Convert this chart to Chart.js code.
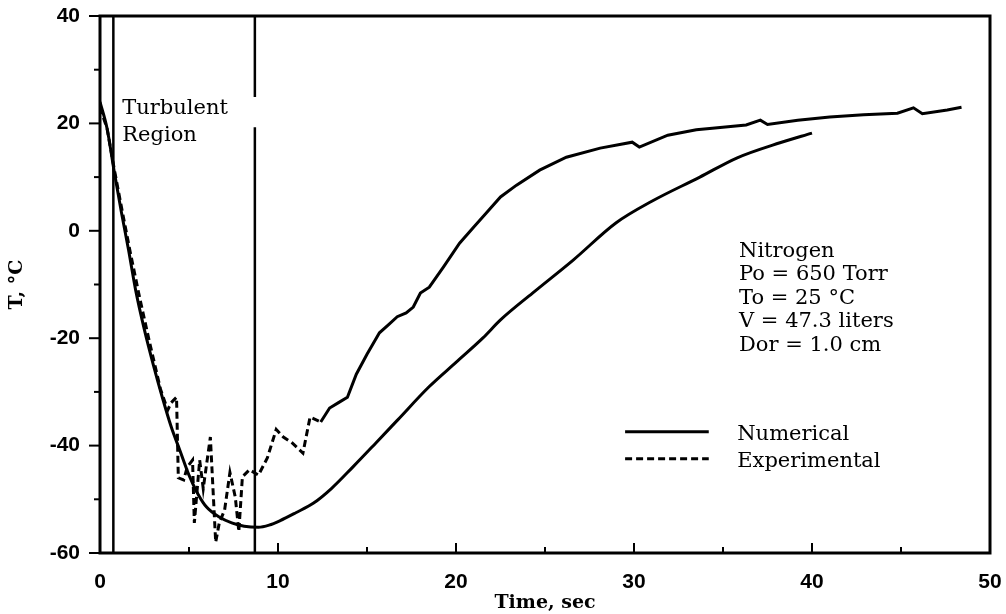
<!DOCTYPE html>
<html>
<head>
<meta charset="utf-8">
<title>Nitrogen blowdown temperature</title>
<script src="https://cdn.jsdelivr.net/npm/chart.js@4.4.1/dist/chart.umd.min.js"></script>
<style>
  html, body { margin: 0; padding: 0; background: #fff; }
  #chart { display: block; }
</style>
</head>
<body>
<canvas id="chart" width="1006" height="614"></canvas>
<script>
// Gas temperature in the vessel during discharge: model vs. measurement
const numTime = [0, 0.4, 0.8, 1.2, 1.6, 2.0, 2.5, 3.0, 3.5, 4.0, 4.5, 5.0, 5.5, 6.0, 6.7, 7.4, 8.1, 8.9, 9.5, 10.1, 11.0, 12.0, 13.0, 14.2, 15.5, 16.7, 18.5, 20.0, 21.5, 22.5, 24.3, 26.6, 29.0, 31.0, 33.7, 35.8, 38.2, 40.0];
const numTemp = [24, 19, 11, 3.5, -3.5, -11, -18.5, -25, -31, -36.5, -41, -45.5, -49, -51.5, -53.3, -54.4, -55, -55.2, -54.8, -54, -52.5, -50.7, -48, -44, -39.5, -35.3, -29, -24.5, -20, -16.6, -11.6, -5.4, 1.5, 5.5, 10, 13.6, 16.4, 18.2];

const expTime = [0, 0.4, 0.8, 1.2, 1.7, 2.25, 2.8, 3.4, 3.8, 4.0, 4.3, 4.4, 4.7, 4.9, 5.2, 5.3, 5.6, 5.8, 6.2, 6.5, 6.7, 7.0, 7.3, 7.6, 7.8, 8.0, 8.4, 8.9, 9.4, 9.9, 10.3, 10.8, 11.4, 11.8, 12.4, 12.9, 13.4, 13.9, 14.4, 15.0, 15.7, 16.2, 16.7, 17.2, 17.6, 18.0, 18.5, 19.3, 20.2, 21.0, 21.7, 22.5, 23.4, 24.7, 26.2, 28.1, 29.9, 30.3, 31.9, 33.5, 34.4, 36.3, 37.1, 37.5, 39.2, 41.0, 42.9, 44.8, 45.7, 46.2, 47.6, 48.4];
const expTemp = [23, 19, 11.5, 4.5, -4, -12.8, -21, -29.5, -33.4, -32, -31, -46, -46.4, -44, -42.7, -54.4, -42.7, -48, -38.4, -58, -54.4, -52, -45, -49.6, -56, -45.8, -44.5, -45.5, -42.3, -37, -38.4, -39.5, -41.4, -34.7, -35.6, -33, -32, -31, -26.7, -23, -19, -17.5, -16, -15.3, -14.2, -11.6, -10.5, -6.7, -2.3, 0.7, 3.3, 6.3, 8.5, 11.3, 13.7, 15.4, 16.5, 15.6, 17.8, 18.8, 19.1, 19.7, 20.6, 19.8, 20.6, 21.2, 21.6, 21.9, 22.9, 21.8, 22.5, 23];

// edges of the turbulent region
const boundaryTimes = [0.75, 8.7];
// the right edge is broken where the label sits
const gapTemps = [24.9, 19.3];

const infoLines = ['Nitrogen', 'Po = 650 Torr', 'To = 25 °C', 'V = 47.3 liters', 'Dor = 1.0 cm'];
const regionLines = ['Turbulent', 'Region'];
const legendLabels = ['Numerical', 'Experimental'];

const serif = '"DejaVu Serif", "Liberation Serif", serif';
const sans = '"Liberation Sans", Arial, sans-serif';

const toPoints = (xs, ys) => xs.map((x, i) => ({ x: x, y: ys[i] }));

const datasets = [
    {
        label: legendLabels[0],
        data: toPoints(numTime, numTemp),
        borderColor: '#000',
        borderWidth: 3,
        pointRadius: 0,
        cubicInterpolationMode: 'monotone'
    },
    {
        label: legendLabels[1],
        data: toPoints(expTime, expTemp),
        borderColor: '#000',
        borderWidth: 3,
        pointRadius: 0,
        tension: 0,
        borderDash: [7, 4],
        // the trace looks continuous once the noise dies out
        segment: {
            borderDash: c => c.p0.parsed.x < 12 ? [7, 4] : []
        }
    },
    {
        label: 'left edge',
        data: [{ x: boundaryTimes[0], y: -60 }, { x: boundaryTimes[0], y: 40 }],
        borderColor: '#000',
        borderWidth: 2.5,
        pointRadius: 0
    },
    {
        label: 'right edge',
        data: [
            { x: boundaryTimes[1], y: -60 },
            { x: boundaryTimes[1], y: gapTemps[1] },
            { x: boundaryTimes[1], y: null },
            { x: boundaryTimes[1], y: gapTemps[0] },
            { x: boundaryTimes[1], y: 40 }
        ],
        borderColor: '#000',
        borderWidth: 2.5,
        pointRadius: 0,
        spanGaps: false
    }
];

// frame, inward/outward tick marks, notes and legend
const decorations = {
    id: 'decorations',
    afterDraw(chart) {
        const ctx = chart.ctx;
        const { left, right, top, bottom } = chart.chartArea;
        const xs = chart.scales.x;
        const ys = chart.scales.y;

        ctx.save();
        ctx.strokeStyle = '#000';
        ctx.lineCap = 'butt';

        // tick marks on the time axis point into the plot
        ctx.lineWidth = 2;
        for (let v = 0; v <= 50; v += 5) {
            const px = xs.getPixelForValue(v);
            const len = v % 10 === 0 ? 10 : 6;
            ctx.beginPath();
            ctx.moveTo(px, bottom);
            ctx.lineTo(px, bottom - len);
            ctx.stroke();
        }
        // tick marks on the temperature axis point outwards
        for (let v = -60; v <= 40; v += 10) {
            const py = ys.getPixelForValue(v);
            const len = v % 20 === 0 ? 11 : 6;
            ctx.beginPath();
            ctx.moveTo(left - len, py);
            ctx.lineTo(left, py);
            ctx.stroke();
        }

        ctx.lineWidth = 3;
        ctx.strokeRect(left, top, right - left, bottom - top);

        ctx.fillStyle = '#000';
        ctx.textBaseline = 'middle';
        ctx.textAlign = 'left';

        // turbulent region label
        ctx.font = '21px ' + serif;
        regionLines.forEach((t, i) => {
            ctx.fillText(t, xs.getPixelForValue(1.25), ys.getPixelForValue(22.8) + i * 27);
        });

        // run conditions
        infoLines.forEach((t, i) => {
            ctx.fillText(t, xs.getPixelForValue(35.9), ys.getPixelForValue(-3.8) + i * 23.5);
        });

        // legend
        const rows = [ys.getPixelForValue(-38), ys.getPixelForValue(-43)];
        legendLabels.forEach((t, i) => {
            const ds = chart.data.datasets[i];
            ctx.beginPath();
            ctx.lineWidth = ds.borderWidth;
            ctx.setLineDash(i === 0 ? [] : ds.borderDash);
            ctx.moveTo(xs.getPixelForValue(29.5), rows[i] - 3);
            ctx.lineTo(xs.getPixelForValue(34.2), rows[i] - 3);
            ctx.stroke();
            ctx.setLineDash([]);
            ctx.fillText(t, xs.getPixelForValue(35.8), rows[i]);
        });

        ctx.restore();
    }
};

new Chart(document.getElementById('chart'), {
    type: 'line',
    data: { datasets: datasets },
    options: {
        responsive: false,
        animation: false,
        layout: { padding: { top: 16, right: 16, left: 0, bottom: 0 } },
        plugins: {
            legend: { display: false },
            tooltip: { enabled: false }
        },
        scales: {
            x: {
                type: 'linear',
                min: 0,
                max: 50,
                afterFit: s => {
                    s.height = 61;
                    s.paddingLeft = 0;
                    s.paddingRight = 0;
                },
                ticks: {
                    stepSize: 10,
                    color: '#000',
                    padding: 17,
                    maxRotation: 0,
                    font: { family: sans, size: 21, weight: 'bold' }
                },
                grid: { display: false, drawTicks: false },
                border: { display: false },
                title: {
                    display: true,
                    text: 'Time, sec',
                    color: '#000',
                    padding: { top: 0, bottom: 0 },
                    font: { family: serif, size: 19, weight: 'bold' }
                }
            },
            y: {
                min: -60,
                max: 40,
                afterFit: s => {
                    s.width = 100;
                    s.paddingTop = 0;
                    s.paddingBottom = 0;
                },
                ticks: {
                    stepSize: 20,
                    color: '#000',
                    padding: 20,
                    font: { family: sans, size: 21, weight: 'bold' }
                },
                grid: { display: false, drawTicks: false },
                border: { display: false },
                title: {
                    display: true,
                    text: 'T, °C',
                    color: '#000',
                    padding: { top: 6, bottom: 0 },
                    font: { family: serif, size: 19, weight: 'bold' }
                }
            }
        }
    },
    plugins: [decorations]
});
</script>
</body>
</html>
